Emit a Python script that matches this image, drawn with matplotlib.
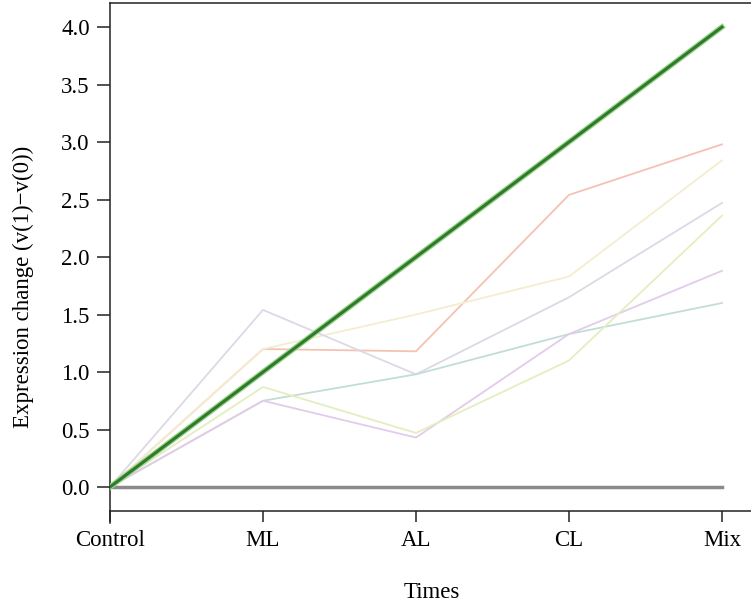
import matplotlib.pyplot as plt
import matplotlib.patheffects as pe

plt.rcParams["font.family"] = ["Liberation Serif", "DejaVu Serif"]

times = ["Control", "ML", "AL", "CL", "Mix"]

trend_main = [0, 1, 2, 3, 4]
flat_line = [0, 0, 0, 0, 0]

genes = {
    "salmon": [0, 1.20, 1.18, 2.54, 2.98],
    "pale_yellow": [0, 1.20, 1.50, 1.83, 2.84],
    "lavender": [0, 1.54, 0.98, 1.65, 2.47],
    "teal": [0, 0.75, 0.98, 1.33, 1.60],
    "purple": [0, 0.75, 0.43, 1.33, 1.88],
    "yellow_green": [0, 0.87, 0.47, 1.10, 2.36],
}
gene_colors = {
    "salmon": "#f5c2b2",
    "pale_yellow": "#f5edd0",
    "lavender": "#dcd9e6",
    "teal": "#c2ddd5",
    "purple": "#e3cbea",
    "yellow_green": "#e4eebf",
}

fig = plt.figure(figsize=(7.51, 6.05), dpi=100)
ax = fig.add_axes([110 / 751, (605 - 523) / 605, 641 / 751, 520 / 605])
x = list(range(len(times)))

ax.plot(x, flat_line, color="#8a8a8a", lw=2.5, zorder=2)
for name, vals in genes.items():
    ax.plot(x, vals, color=gene_colors[name], lw=1.3, zorder=3)
ax.plot(x, trend_main, color="#2f7a2c", lw=2.2, zorder=4,
        path_effects=[pe.Stroke(linewidth=4, foreground="#9bd58a"), pe.Normal()])

ax.set_xlim(0, 4.19)
ax.set_ylim(-0.313, 4.209)
ax.spines["right"].set_visible(False)
ax.spines["bottom"].set_position(("data", -0.209))
ax.spines["bottom"].set_bounds(0, 4.19)
for s in ax.spines.values():
    s.set_linewidth(1.1)
    s.set_color("#222222")

ax.set_xticks(x)
ax.set_xticklabels(times)
ax.set_yticks([0, 0.5, 1.0, 1.5, 2.0, 2.5, 3.0, 3.5, 4.0])
ax.set_yticklabels([f"{v:.1f}" for v in ax.get_yticks()])
ax.tick_params(axis="both", labelsize=16.5, width=1.1, color="#222222")
ax.tick_params(axis="y", length=9.5, pad=5)
ax.tick_params(axis="x", length=8, pad=6)

fig.text(432 / 751, 1 - 592 / 605, "Times", fontsize=16.5, ha="center", va="center")
fig.text(23 / 751, 1 - 287 / 605, "Expression change (v(1)\u2212v(0))", fontsize=16.5,
         rotation=90, ha="center", va="center")

fig.savefig("out.png", dpi=100)
